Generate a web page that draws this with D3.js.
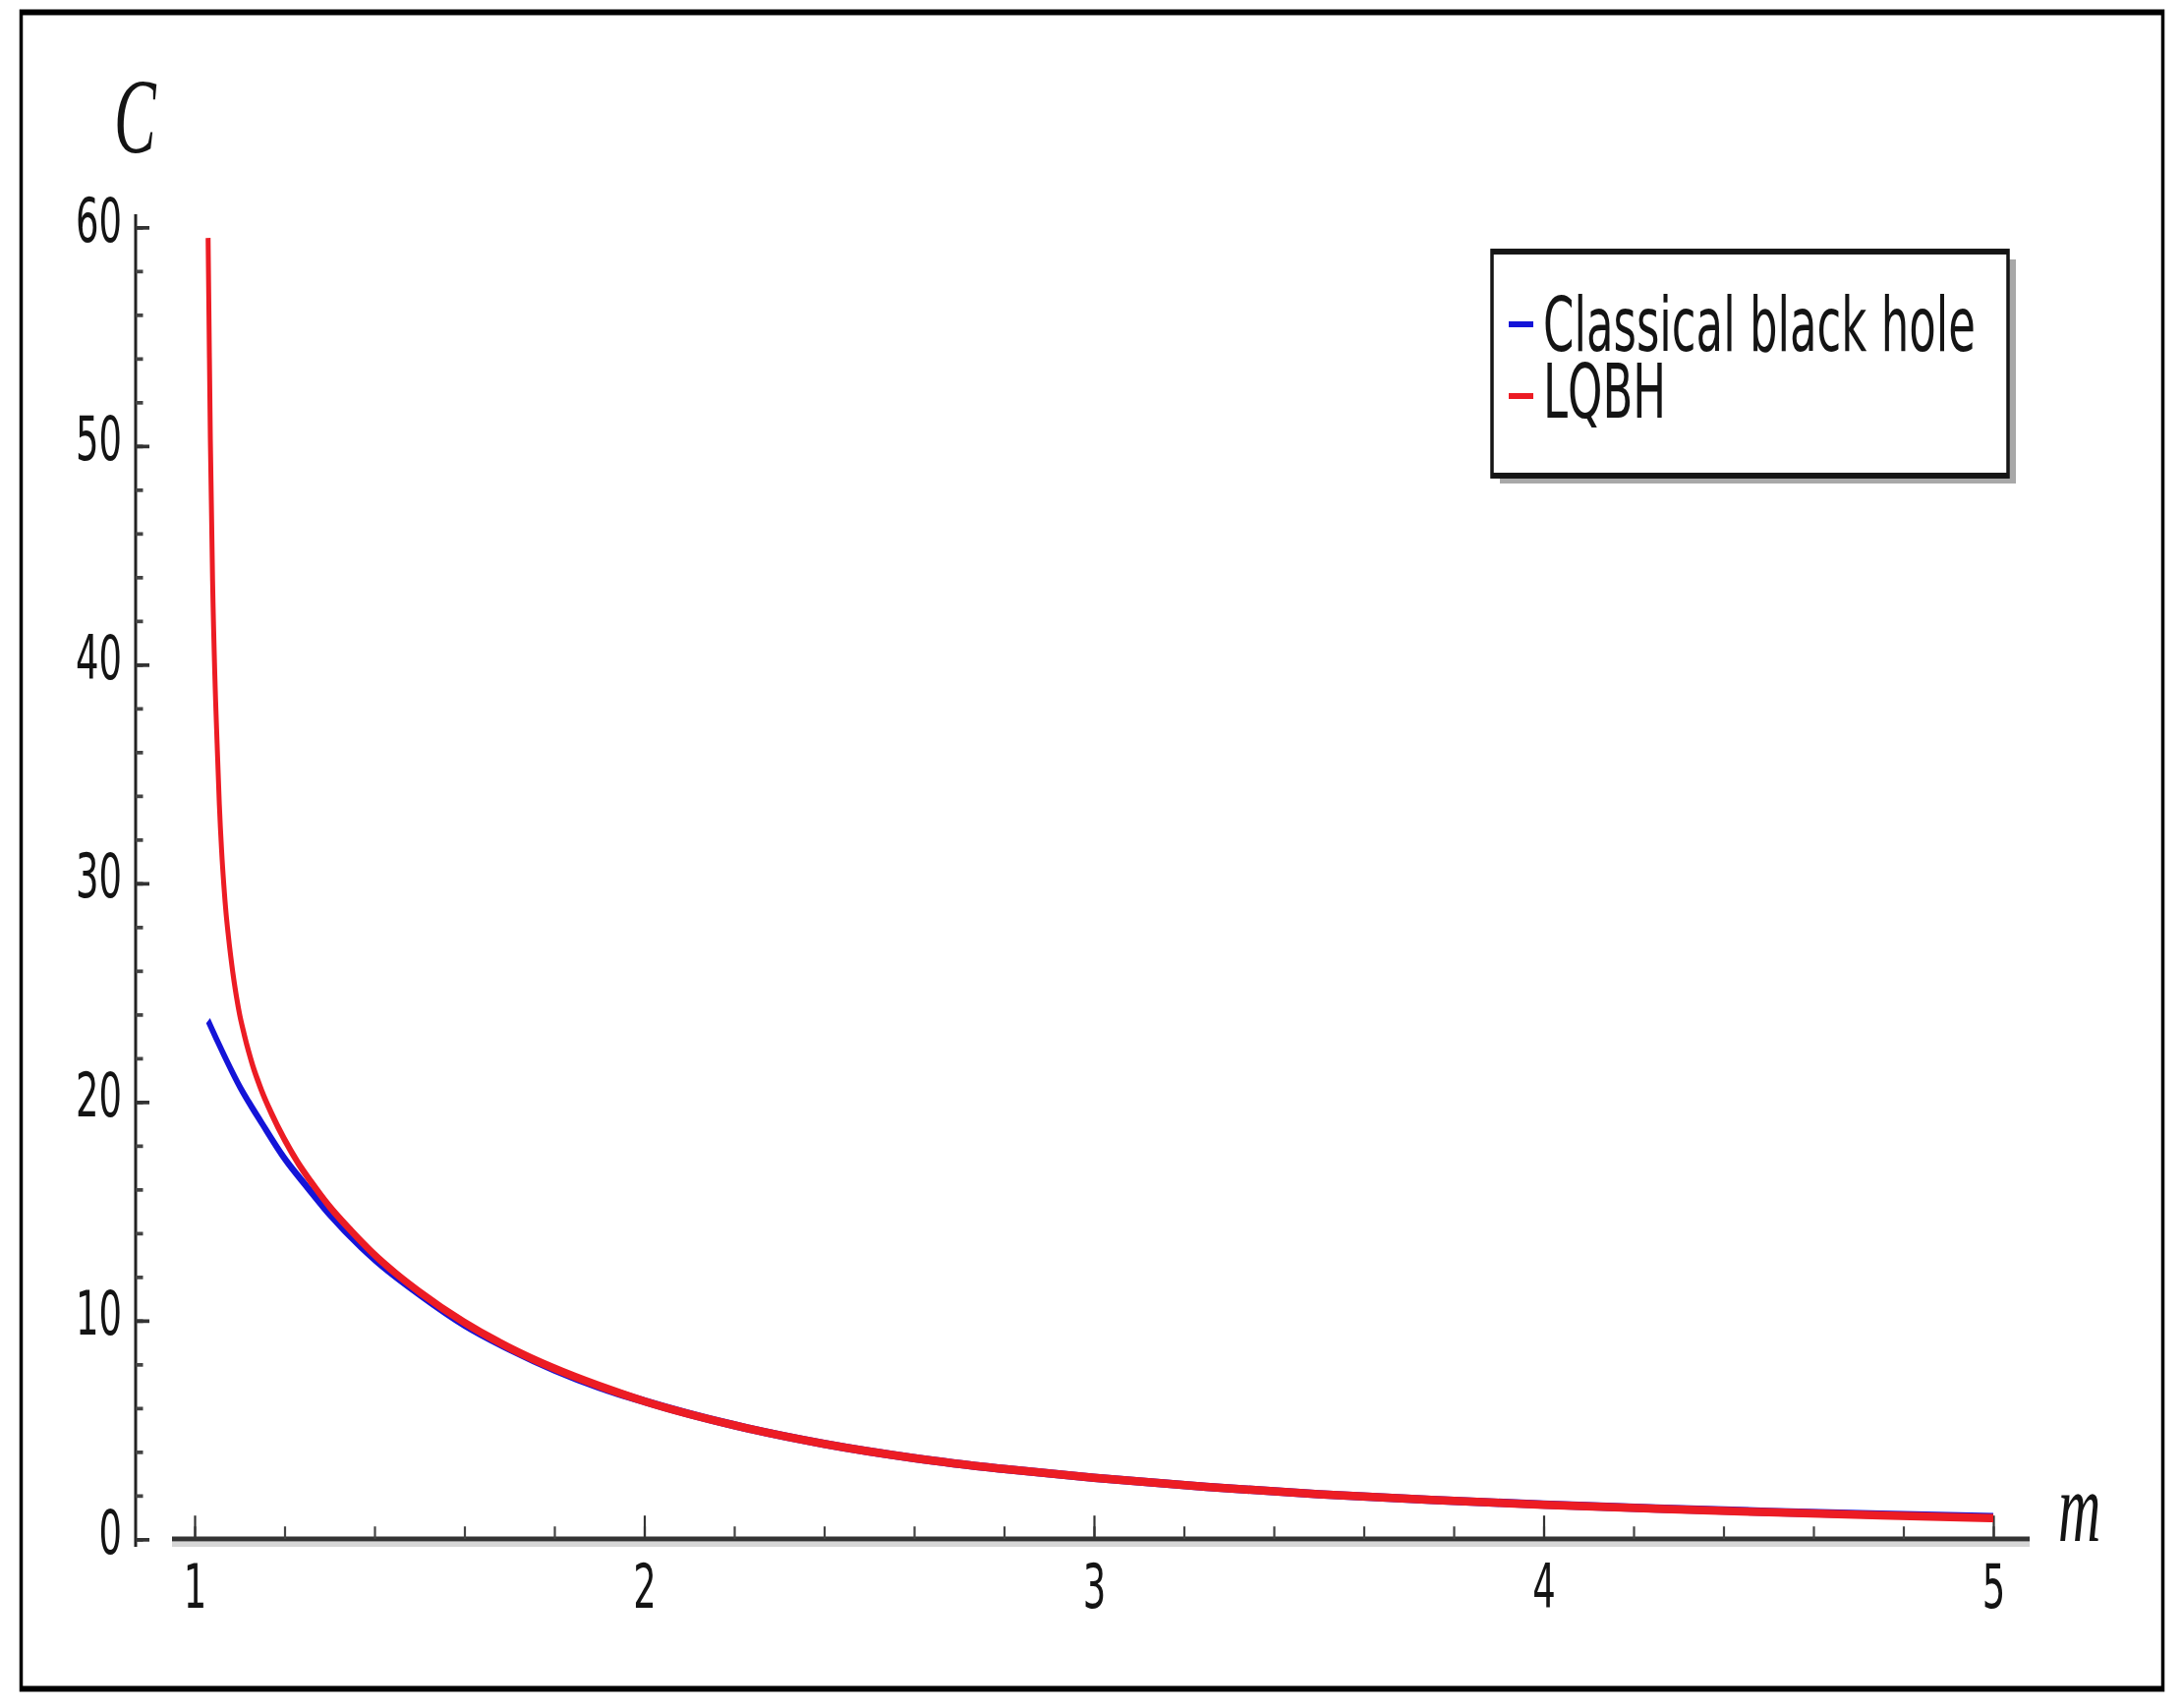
<!DOCTYPE html>
<html lang="en">
<head>
<meta charset="utf-8">
<script src="https://cdn.jsdelivr.net/npm/d3@7"></script>
<style>
  body { margin: 0; background: #fff; }
  svg { display: block; }
  .lbl { font-family: "DejaVu Sans", sans-serif; fill: #141414; }
  .math { font-family: "Liberation Serif", "DejaVu Serif", serif; font-style: italic; fill: #141414; }
</style>
</head>
<body>
<svg id="chart" width="2220" height="1738"></svg>
<script>
// values
var classicalMass = [1.03, 1.05, 1.1, 1.15, 1.2, 1.25, 1.3, 1.4, 1.5, 1.6, 1.7, 1.8, 1.9, 2.0,
                     2.2, 2.4, 2.6, 2.8, 3.0, 3.25, 3.5, 3.75, 4.0, 4.25, 4.5, 4.75, 5.0];
var classicalC = [23.7, 22.8, 20.7, 19.0, 17.4, 16.1, 14.85, 12.8, 11.2, 9.8, 8.7, 7.75, 6.95, 6.3,
                  5.2, 4.35, 3.7, 3.2, 2.8, 2.38, 2.05, 1.79, 1.57, 1.39, 1.24, 1.11, 1.0];

var lqbhMass = [1.030, 1.032, 1.035, 1.040, 1.045, 1.050, 1.055, 1.060, 1.065, 1.070, 1.075, 1.080,
                1.085, 1.090, 1.10, 1.11, 1.12, 1.13, 1.14, 1.15, 1.17, 1.20, 1.23, 1.26, 1.30, 1.35,
                1.40, 1.45, 1.5, 1.6, 1.7, 1.8, 1.9, 2.0,
                2.2, 2.4, 2.6, 2.8, 3.0, 3.25, 3.5, 3.75, 4.0, 4.25, 4.5, 4.75, 5.0];
var lqbhC = [59.5, 55.8, 50.3, 43.8, 39.5, 36.4, 33.6, 31.5, 29.9, 28.6, 27.6, 26.7,
             25.9, 25.2, 24.0, 23.1, 22.3, 21.6, 21.0, 20.45, 19.5, 18.26, 17.2, 16.3, 15.2, 14.05,
             13.0, 12.1, 11.3, 9.9, 8.75, 7.8, 7.0, 6.3,
             5.2, 4.35, 3.7, 3.2, 2.8, 2.38, 2.05, 1.79, 1.56, 1.38, 1.22, 1.08, 0.95];

var xTicks = [1, 2, 3, 4, 5];
var yTicks = [0, 10, 20, 30, 40, 50, 60];
var seriesNames = ["Classical black hole", "LQBH"];
var seriesColors = ["#1414d8", "#ec1c24"];

// the original picture is stretched vertically, so draw in a squashed box and stretch it
var W = 2220, H = 1738, S = 1.7;
function v(px) { return px / S; }

var svg = d3.select("#chart")
  .attr("viewBox", "0 0 " + W + " " + v(H))
  .attr("preserveAspectRatio", "none");

var x = d3.scaleLinear().domain([1, 5]).range([198, 2028]);
var y = d3.scaleLinear().domain([0, 60]).range([v(1566), v(231)]);

// outer frame
svg.append("rect")
  .attr("x", 21.5).attr("y", v(12.5))
  .attr("width", 2179).attr("height", v(1706))
  .attr("fill", "none").attr("stroke", "#000").attr("stroke-width", 3.5);

// axis lines
svg.append("line")
  .attr("x1", 175).attr("x2", 2065)
  .attr("y1", y(0) + 3.2).attr("y2", y(0) + 3.2)
  .attr("stroke", "#d6d6d6").attr("stroke-width", 3);
svg.append("line")
  .attr("x1", 175).attr("x2", 2065)
  .attr("y1", y(0)).attr("y2", y(0))
  .attr("stroke", "#333").attr("stroke-width", 3);
svg.append("line")
  .attr("x1", 138).attr("x2", 138)
  .attr("y1", v(218)).attr("y2", v(1574))
  .attr("stroke", "#222").attr("stroke-width", 3);

function clean(g) {
  g.select(".domain").remove();
  g.selectAll(".tick line").attr("stroke-width", 2.2);
}

// x axis: minor then major
svg.append("g")
  .attr("transform", "translate(0," + y(0) + ")")
  .style("color", "#444")
  .call(d3.axisBottom(x).tickValues(d3.range(10, 51, 2).map(function(d) { return d / 10; }))
    .tickSize(-7.5).tickFormat(""))
  .call(clean);

var gx = svg.append("g")
  .attr("transform", "translate(0," + y(0) + ")")
  .style("color", "#333")
  .call(d3.axisBottom(x).tickValues(xTicks).tickSize(-14).tickPadding(15).tickFormat(d3.format("d")))
  .call(clean);
gx.selectAll(".tick text").attr("class", "lbl").attr("font-size", 37);

// y axis: minor then major
svg.append("g")
  .attr("transform", "translate(138,0)")
  .style("color", "#444")
  .call(d3.axisLeft(y).tickValues(d3.range(0, 61, 2)).tickSize(-7.5).tickFormat(""))
  .call(clean);

var gy = svg.append("g")
  .attr("transform", "translate(138,0)")
  .style("color", "#333")
  .call(d3.axisLeft(y).tickValues(yTicks).tickSize(-14).tickPadding(14).tickFormat(d3.format("d")))
  .call(clean);
gy.selectAll(".tick text").attr("class", "lbl").attr("font-size", 37).attr("dy", "0.22em");

// axis titles
svg.append("text").attr("class", "math")
  .attr("x", 116).attr("y", v(155))
  .attr("font-size", 64).text("C");
svg.append("text").attr("class", "math")
  .attr("x", 2094).attr("y", v(1568))
  .attr("font-size", 60).text("m");

// curves
var line = d3.line()
  .x(function(d) { return x(d[0]); })
  .y(function(d) { return y(d[1]); })
  .curve(d3.curveMonotoneX);

var series = [
  d3.zip(classicalMass, classicalC),
  d3.zip(lqbhMass, lqbhC)
];

series.forEach(function(pts, i) {
  svg.append("path")
    .datum(pts)
    .attr("d", line)
    .attr("fill", "none")
    .attr("stroke", seriesColors[i])
    .attr("stroke-width", 5)
    .attr("stroke-linejoin", "round");
});

// legend
var lg = svg.append("g");
lg.append("rect")
  .attr("x", 1526).attr("y", v(264))
  .attr("width", 525).attr("height", v(228))
  .attr("fill", "#a8a8a8");
lg.append("rect")
  .attr("x", 1518).attr("y", v(256))
  .attr("width", 525).attr("height", v(228))
  .attr("fill", "#fff").attr("stroke", "#151515").attr("stroke-width", 3.5);

var legendY = [330, 403];
var textY = [357, 425];
seriesNames.forEach(function(name, i) {
  lg.append("line")
    .attr("x1", 1535).attr("x2", 1560)
    .attr("y1", v(legendY[i])).attr("y2", v(legendY[i]))
    .attr("stroke", seriesColors[i]).attr("stroke-width", 3.5);
  lg.append("text").attr("class", "lbl")
    .attr("x", 1570).attr("y", v(textY[i]))
    .attr("font-size", 45)
    .text(name);
});
</script>
</body>
</html>
